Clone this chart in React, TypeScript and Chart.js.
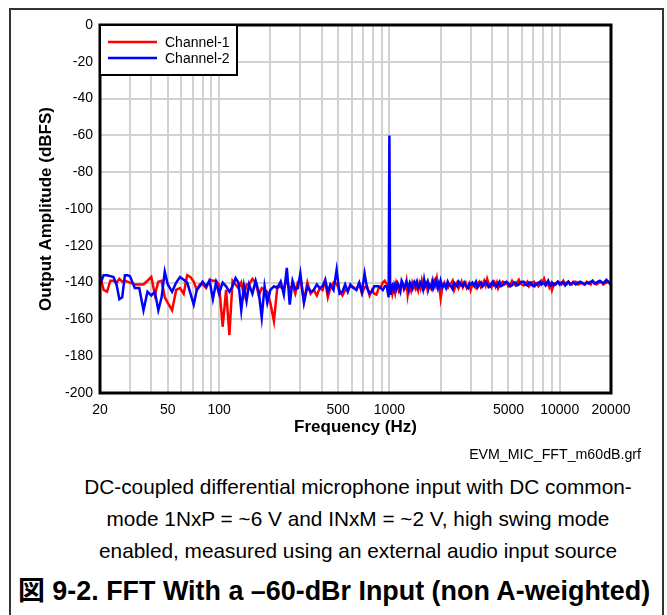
import { useEffect, useRef } from 'react';
import { Chart, registerables } from 'chart.js';

Chart.register(...registerables);

const FONT = '"Liberation Sans", Arial, "Noto Sans CJK JP", sans-serif';

// Frequency bins (Hz)
const FREQ_HZ = [
  20, 21, 22, 23, 24, 25, 26, 27, 28, 29, 30,
  32, 34, 36, 38, 40, 42, 44, 46, 48, 50,
  53, 56, 59, 62, 65, 68, 71, 74, 77, 80,
  84, 88, 92, 96, 100,
  105, 110, 115, 120, 125, 130, 135, 140, 145, 150,
  157, 164, 171, 178, 185, 192, 200,
  210, 220, 230, 240, 250, 260, 270, 280, 290, 300,
  315, 330, 345, 360, 375, 390, 405, 420, 435, 450,
  470, 490, 510, 530, 550, 570, 590,
  615, 640, 665, 690, 715, 740, 765, 790, 815, 840, 865, 890, 915, 940, 965, 990,
  1000, 1010,
  1020, 1040, 1060, 1080, 1100, 1120, 1140, 1160, 1180, 1200,
  1220, 1240, 1260, 1280, 1300, 1320, 1340, 1360, 1380, 1400,
  1425, 1450, 1475, 1500, 1525, 1550, 1575, 1600, 1625, 1650, 1675, 1700,
  1725, 1750, 1775, 1800, 1825, 1850, 1875, 1900, 1925, 1950, 1975, 2000,
  2050, 2100, 2150, 2200, 2250, 2300, 2350, 2400, 2450, 2500,
  2550, 2600, 2650, 2700, 2750, 2800, 2850, 2900, 2950, 3000,
  3075, 3150, 3225, 3300, 3375, 3450, 3525, 3600, 3675, 3750,
  3825, 3900, 3975, 4050, 4125, 4200, 4275, 4350, 4425, 4500,
  4625, 4750, 4875, 5000, 5125, 5250, 5375, 5500, 5625, 5750, 5875, 6000,
  6150, 6300, 6450, 6600, 6750, 6900, 7050, 7200, 7350, 7500,
  7650, 7800, 7950, 8100, 8250, 8400, 8550, 8700, 8850, 9000,
  9250, 9500, 9750, 10000, 10250, 10500, 10750, 11000, 11250, 11500, 11750, 12000,
  12400, 12800, 13200, 13600, 14000, 14400, 14800, 15200, 15600, 16000,
  16400, 16800, 17200, 17600, 18000, 18400, 18800, 19200, 19600, 20000,
];

// Channel-1 (red), dBFS
const CHANNEL_1 = [
  -136, -144, -145, -139, -139, -140, -138, -139.5, -139, -139.5, -140,
  -141, -141, -141, -139, -137, -146.5, -139.5, -139, -148, -151,
  -155, -144, -143, -146, -136, -137, -139.5, -144, -141, -141,
  -143, -138.5, -139, -139, -141,
  -164, -144, -168.5, -139, -141, -143, -140, -147, -141, -141,
  -138, -140, -147, -143, -144, -145, -151,
  -161, -142, -142.5, -143, -138.5, -144, -141, -146, -140, -138,
  -150, -140, -146, -144, -147, -143, -144, -139, -148, -143,
  -140, -140.5, -144.5, -147, -144, -144, -142,
  -142.5, -144, -140.5, -146, -142.5, -142, -147, -144, -146, -146.5, -143, -142.5, -140, -139, -141, -143,
  -143, -144,
  -141, -146, -142, -145.5, -140, -142, -145, -144, -140.5, -141,
  -144, -143, -139.5, -146.5, -142, -141.5, -144, -140.5, -143, -142,
  -143.5, -141, -144, -140.5, -143, -139, -142, -143, -140, -141, -144, -140.5,
  -142, -143, -140, -142, -139.5, -138.5, -141, -138, -142, -141, -144, -148.5,
  -142, -140, -142.5, -143, -141, -140.5, -139, -144, -141.5, -140,
  -143, -141.5, -139.5, -142.5, -141, -140, -143, -142, -140.5, -144,
  -141, -142, -143, -140.5, -139.5, -142.5, -141, -139, -141.5, -138,
  -140.5, -141, -142.5, -140, -139.5, -142, -140, -143, -141.5, -140.5,
  -139.5, -141, -140, -142, -141, -139, -140.5, -141.5, -140, -138.5, -140.5, -141,
  -141.5, -140.5, -139.5, -142, -141, -140, -139.5, -141.5, -140.5, -142,
  -141, -139, -140, -138, -140, -141, -139.5, -142.5, -141, -144,
  -140.5, -141, -139.5, -140, -141, -139, -140.5, -141, -139.5, -140.5, -141, -139.5,
  -139.5, -141, -140.5, -140, -141, -139.5, -140, -141, -139, -140,
  -141, -140.5, -139.5, -139.5, -141, -140.5, -140, -139.5, -140.5, -139,
];

// Channel-2 (blue), dBFS
const CHANNEL_2 = [
  -141, -136, -136, -136.5, -137, -141, -149, -148, -136, -136, -136.5,
  -143, -143, -155, -145, -147, -145, -155, -148, -134, -141,
  -145, -140, -137, -138.5, -140, -146, -152, -144, -142, -139.5,
  -142, -139, -149, -140, -146,
  -140, -142, -145, -142, -137.5, -140, -155, -142, -150, -141,
  -146, -139, -145, -159, -142, -151, -144,
  -142, -143, -139.5, -146.5, -132, -152, -139, -143.5, -143, -135,
  -151, -142, -145, -144, -141, -143, -142, -138.5, -145, -141,
  -144, -133, -146, -145, -141, -145, -141,
  -143, -144, -140, -145, -135, -143, -146, -145, -142, -142, -142, -143, -144, -142, -142, -148,
  -60, -146,
  -143, -141.5, -144, -141, -143.5, -140.5, -142, -144.5, -139, -140.5,
  -143, -142, -139.5, -141.5, -144, -140, -141, -143, -140.5, -139.5,
  -141.5, -139.5, -143, -142, -140, -141, -143.5, -138.5, -142, -141, -139.5, -143,
  -141, -141.5, -143, -139.5, -142.5, -141, -139, -141, -143, -140.5, -142, -139,
  -142.5, -141, -143, -139.5, -141.5, -142, -143.5, -140, -141, -142,
  -139.5, -140.5, -141.5, -142, -140, -141.5, -142.5, -143, -140.5, -141,
  -140, -141.5, -139.5, -142.5, -141, -140, -142, -141, -139.5, -140.5,
  -142.5, -142, -140.5, -139.5, -141.5, -141, -142, -140.5, -139.5, -142,
  -141.5, -140, -139.5, -140.5, -142, -141.5, -140, -140, -141.5, -141, -140, -139.5,
  -139.5, -141, -141.5, -140, -140, -141.5, -142, -140.5, -141, -140,
  -139.5, -141, -140, -140.5, -141.5, -140, -139, -141, -141.5, -140,
  -141.5, -140.5, -139.5, -141, -140, -140, -141.5, -140, -139.5, -141, -140.5, -140,
  -141, -140, -139.5, -140.5, -141, -140, -140.5, -139.5, -139, -140.5,
  -140, -139.5, -139, -140, -140.5, -139.5, -138.5, -139.5, -140, -139.5,
];

const SERIES_NAMES = ['Channel-1', 'Channel-2'];
const SERIES_COLORS = ['#ff0000', '#0000ff'];

const X_GRID_TICKS = [
  20, 30, 40, 50, 60, 70, 80, 90, 100,
  200, 300, 400, 500, 600, 700, 800, 900, 1000,
  2000, 3000, 4000, 5000, 6000, 7000, 8000, 9000, 10000, 20000,
];
const X_TICK_LABELS = [20, 50, 100, 500, 1000, 5000, 10000, 20000];
const X_MIN = 20;
const X_MAX = 20000;
const Y_MIN = -200;
const Y_MAX = 0;
const Y_STEP = 20;

const frameLegendPlugin = {
  id: 'frameLegend',
  afterDraw(chart: any) {
    const { ctx, chartArea: a } = chart;
    ctx.save();
    ctx.strokeStyle = '#000';
    ctx.lineWidth = 3;
    ctx.strokeRect(a.left, a.top, a.right - a.left, a.bottom - a.top);
    const lx = a.left;
    const ly = a.top;
    const lw = 137;
    const lh = 50;
    ctx.fillStyle = '#fff';
    ctx.fillRect(lx, ly, lw, lh);
    ctx.lineWidth = 2;
    ctx.strokeRect(lx, ly, lw, lh);
    chart.data.datasets.forEach((ds: any, i: number) => {
      const y = ly + 17 + i * 16;
      ctx.strokeStyle = ds.borderColor;
      ctx.lineWidth = 2.5;
      ctx.beginPath();
      ctx.moveTo(lx + 8, y);
      ctx.lineTo(lx + 57, y);
      ctx.stroke();
      ctx.fillStyle = '#000';
      ctx.font = '14px ' + FONT;
      ctx.textAlign = 'left';
      ctx.textBaseline = 'middle';
      ctx.fillText(ds.label, lx + 65, y + 1);
    });
    ctx.restore();
  },
};

export default function App() {
  const ref = useRef<HTMLCanvasElement>(null);

  useEffect(() => {
    const series = [CHANNEL_1, CHANNEL_2];
    const chart = new Chart(ref.current as HTMLCanvasElement, {
      type: 'line',
      data: {
        datasets: series.map((vals, i) => ({
          label: SERIES_NAMES[i],
          data: FREQ_HZ.map((f, j) => ({ x: f, y: vals[j] })),
          borderColor: SERIES_COLORS[i],
          backgroundColor: SERIES_COLORS[i],
          borderWidth: 2.5,
          pointRadius: 0,
          tension: 0,
          fill: false,
          order: i === 0 ? 1 : 0,
        })),
      },
      options: {
        responsive: false,
        animation: false,
        events: [],
        layout: { padding: { left: 0, top: 17, right: 37, bottom: 0 } },
        scales: {
          x: {
            type: 'logarithmic',
            min: X_MIN,
            max: X_MAX,
            afterBuildTicks: (s: any) => {
              s.ticks = X_GRID_TICKS.map((v) => ({ value: v }));
            },
            afterFit: (s: any) => {
              s.height = 55;
            },
            ticks: {
              autoSkip: false,
              maxRotation: 0,
              minRotation: 0,
              padding: 9,
              color: '#000',
              font: { family: FONT, size: 14 },
              callback: (v: any) => (X_TICK_LABELS.includes(Number(v)) ? String(v) : ''),
            },
            grid: { color: '#d2d2d2', lineWidth: 2, drawTicks: false },
            border: { display: false },
            title: {
              display: true,
              text: 'Frequency (Hz)',
              color: '#000',
              font: { family: FONT, size: 17, weight: 'bold' },
              padding: { top: 0, bottom: 10 },
            },
          },
          y: {
            type: 'linear',
            min: Y_MIN,
            max: Y_MAX,
            afterFit: (s: any) => {
              s.width = 92;
            },
            ticks: {
              stepSize: Y_STEP,
              padding: 7,
              color: '#000',
              font: { family: FONT, size: 14 },
            },
            grid: { color: '#d2d2d2', lineWidth: 2, drawTicks: false },
            border: { display: false },
            title: {
              display: true,
              text: 'Output Amplitude (dBFS)',
              color: '#000',
              font: { family: FONT, size: 17, weight: 'bold' },
              padding: { top: 28, bottom: 0 },
            },
          },
        },
        plugins: {
          legend: { display: false },
          tooltip: { enabled: false },
        },
      } as any,
      plugins: [frameLegendPlugin],
    });
    return () => chart.destroy();
  }, []);

  return (
    <div
      style={{
        position: 'fixed',
        left: 0,
        top: 0,
        width: 667,
        height: 615,
        overflow: 'hidden',
        background: '#fff',
        fontFamily: FONT,
        color: '#000',
      }}
    >
      <div
        style={{
          position: 'absolute',
          left: 9,
          top: 8,
          width: 655,
          height: 700,
          border: '2px solid #333',
          boxSizing: 'border-box',
        }}
      />
      <canvas
        ref={ref}
        width={640}
        height={440}
        style={{ position: 'absolute', left: 8, top: 8, width: 640, height: 440 }}
      />
      <div
        style={{
          position: 'absolute',
          right: 26,
          top: 445,
          fontSize: 14.2,
          lineHeight: '18px',
          whiteSpace: 'nowrap',
        }}
      >
        EVM_MIC_FFT_m60dB.grf
      </div>
      <div
        style={{
          position: 'absolute',
          left: 58,
          width: 600,
          top: 471,
          fontSize: 20.8,
          lineHeight: '32px',
          textAlign: 'center',
          whiteSpace: 'nowrap',
        }}
      >
        DC-coupled differential microphone input with DC common-
        <br />
        mode 1NxP = ~6 V and INxM = ~2 V, high swing mode
        <br />
        enabled, measured using an external audio input source
      </div>
      <div
        style={{
          position: 'absolute',
          left: 18,
          top: 575,
          fontSize: 26.9,
          lineHeight: '32px',
          fontWeight: 'bold',
          whiteSpace: 'nowrap',
        }}
      >
        図 9-2. FFT With a –60-dBr Input (non A-weighted)
      </div>
    </div>
  );
}
